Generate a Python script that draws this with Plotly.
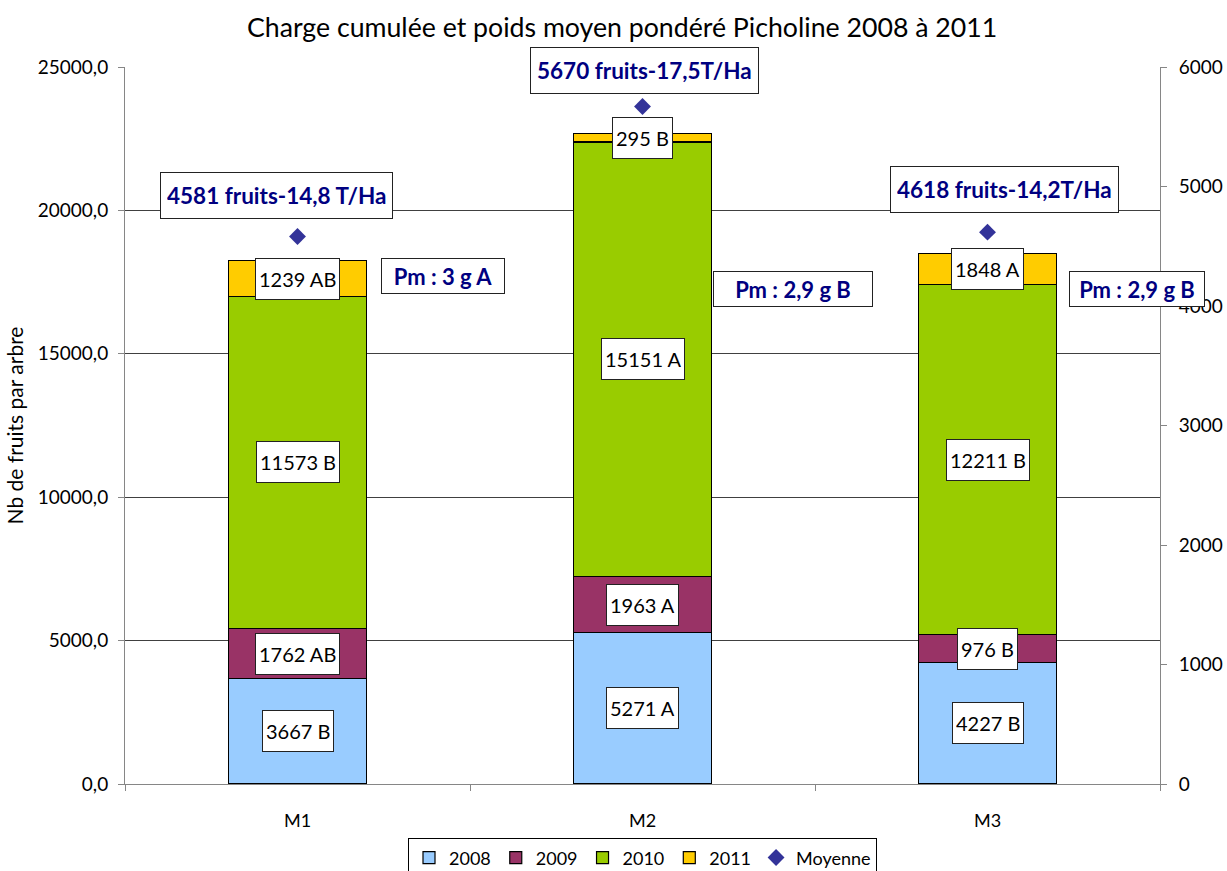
import plotly.graph_objects as go

categories = ["M1", "M2", "M3"]
years = ["2008", "2009", "2010", "2011"]
v2008 = [3667, 5271, 4227]
v2009 = [1762, 1963, 976]
v2010 = [11573, 15151, 12211]
v2011 = [1239, 295, 1070]
labels2008 = ["3667 B", "5271 A", "4227 B"]
labels2009 = ["1762 AB", "1963 A", "976 B"]
labels2010 = ["11573 B", "15151 A", "12211 B"]
labels2011 = ["1239 AB", "295 B", "1848 A"]
moyenne = [4581, 5670, 4618]
moy_labels = ["4581 fruits-14,8 T/Ha", "5670 fruits-17,5T/Ha", "4618 fruits-14,2T/Ha"]
pm_labels = ["Pm : 3 g A", "Pm : 2,9 g B", "Pm : 2,9 g B"]
colors = ["#99CCFF", "#993366", "#99CC00", "#FFCC00"]

FONT = "Lato"
series = [v2008, v2009, v2010, v2011]
series_labels = [labels2008, labels2009, labels2010, labels2011]

fig = go.Figure()
for name, vals, col in zip(years, series, colors):
    fig.add_trace(go.Bar(
        x=categories, y=vals, name=name, width=0.4,
        marker=dict(color=col, line=dict(color="black", width=1.2)),
        hoverinfo="skip",
    ))
fig.add_trace(go.Scatter(
    x=categories, y=moyenne, name="Moyenne", mode="markers", yaxis="y2",
    marker=dict(symbol="diamond", size=13, color="#333399"),
))

annotations = []
# segment labels
for i, cat in enumerate(categories):
    base = 0
    for vals, labs in zip(series, series_labels):
        mid = base + vals[i] / 2
        base += vals[i]
        annotations.append(dict(
            x=cat, y=mid, xref="x", yref="y", text=labs[i], showarrow=False,
            font=dict(family=FONT, size=20, color="black"),
            bgcolor="white", bordercolor="#222", borderwidth=1, borderpad=3,
            height=34,
        ))

# moyenne labels
moy_xshift = [-21, 1.5, 16.5]
moy_yshift = [41, 36, 42.5]
for i, cat in enumerate(categories):
    annotations.append(dict(
        x=cat, y=moyenne[i], xref="x", yref="y2", text="<b>%s</b>" % moy_labels[i],
        showarrow=False, xshift=moy_xshift[i], yshift=moy_yshift[i],
        font=dict(family=FONT, size=22.5, color="#000080"),
        bgcolor="white", bordercolor="#222", borderwidth=1, borderpad=6, height=33,
    ))

# Pm labels
pm_xshift = [145.5, 150.5, 149.5]
pm_y = [0.7085, 0.690, 0.690]
pm_w = [114, 150, 126]
for i, cat in enumerate(categories):
    annotations.append(dict(
        x=cat, y=pm_y[i], xref="x", yref="paper", text="<b>%s</b>" % pm_labels[i],
        showarrow=False, xshift=pm_xshift[i], yanchor="middle",
        font=dict(family=FONT, size=22, color="#000080"),
        bgcolor="white", bordercolor="#222", borderwidth=1, borderpad=4,
        height=26, width=pm_w[i],
    ))

fig.update_layout(
    width=1227, height=871,
    margin=dict(l=125, r=67, t=67, b=87, autoexpand=False),
    paper_bgcolor="white", plot_bgcolor="white",
    barmode="stack",
    separators=", ",
    font=dict(family=FONT, size=19, color="black"),
    title=dict(text="Charge cumulée et poids moyen pondéré Picholine 2008 à 2011",
               x=0.507, xanchor="center", y=0.968, yanchor="middle",
               font=dict(family=FONT, size=26.7, color="black")),
    xaxis=dict(type="category", range=[-0.5, 2.5], showline=True, linecolor="#868686",
               linewidth=1, ticks="outside", tickson="boundaries", ticklen=6,
               tickcolor="#868686", showgrid=False, ticklabelstandoff=20,
               tickfont=dict(family=FONT, size=18)),
    yaxis=dict(range=[0, 25000], dtick=5000, tickformat=".1f", showline=True,
               linecolor="#868686", linewidth=1, ticks="outside", ticklen=6,
               tickcolor="#868686", showgrid=True, gridcolor="#404040", gridwidth=1,
               zeroline=False, ticklabelstandoff=6, automargin=False,
               title=dict(text="Nb de fruits par arbre", font=dict(family=FONT, size=21), standoff=8),
               tickfont=dict(family=FONT, size=19)),
    yaxis2=dict(range=[0, 6000], dtick=1000, tickformat="d", overlaying="y", side="right",
                showline=True, linecolor="#868686", linewidth=1, ticks="outside", ticklen=6,
                tickcolor="#868686", showgrid=False, zeroline=False, ticklabelstandoff=8,
                automargin=False,
                tickfont=dict(family=FONT, size=19)),
    legend=dict(orientation="h", x=0.5, xanchor="center", y=-0.103, yanchor="middle",
                bordercolor="black", borderwidth=1, font=dict(family=FONT, size=18),
                itemwidth=30, tracegroupgap=0, bgcolor="white", traceorder="normal"),
    annotations=annotations,
    showlegend=True,
)

fig.write_html("out.html", config={"displayModeBar": False},
               post_script="document.body.style.margin='0';")
